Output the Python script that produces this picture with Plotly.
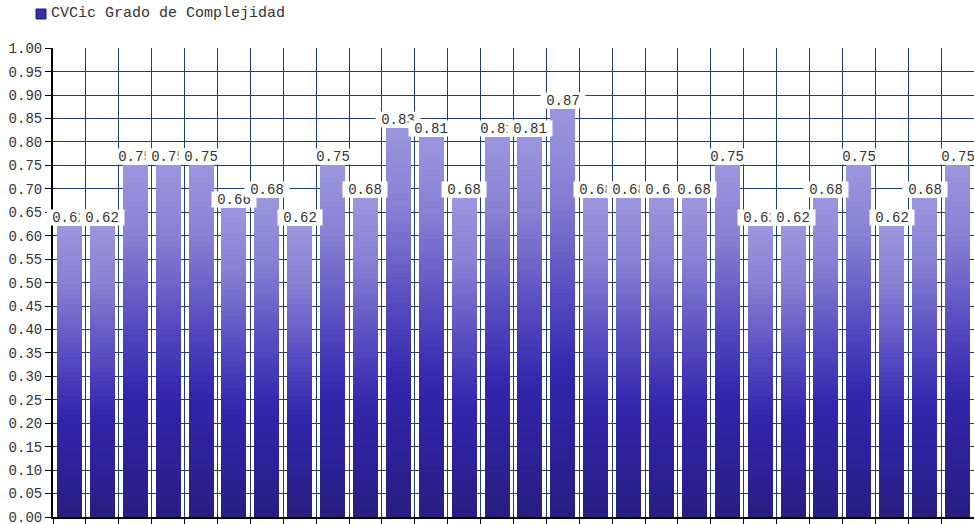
import numpy as np
import plotly.graph_objects as go

# ---------------- data ----------------
categories = [str(i) for i in range(1, 29)]
values = [0.62, 0.62, 0.75, 0.75, 0.75, 0.66, 0.68, 0.62, 0.75, 0.68,
          0.83, 0.81, 0.68, 0.81, 0.81, 0.87, 0.68, 0.68, 0.68, 0.68,
          0.75, 0.62, 0.62, 0.68, 0.75, 0.62, 0.68, 0.75]
value_labels = [f"{v:.2f}" for v in values]
series_name = "CVCic Grado de Complejidad"

# ---------------- style ----------------
FONT = "Liberation Mono"
GRID = "#1f3f70"
# gradient stops: fraction measured from bar top (0) to bar bottom (1)
grad_pos = [0.0, 0.2, 0.45, 0.65, 0.85, 1.0]
grad_rgb = np.array([
    [156, 150, 222],
    [136, 128, 212],
    [86, 76, 192],
    [50, 38, 172],
    [44, 33, 150],
    [40, 30, 128],
])
K = 60  # number of stacked slices used to render the vertical gradient


def grad_color(t):
    rgb = [np.interp(t, grad_pos, grad_rgb[:, i]) for i in range(3)]
    return "rgb(%d,%d,%d)" % tuple(int(round(c)) for c in rgb)


fig = go.Figure()
for k in range(K):
    t = 1 - (k + 0.5) / K
    fig.add_trace(go.Bar(
        x=categories,
        y=[v / K for v in values],
        marker=dict(color=grad_color(t), line=dict(width=0)),
        showlegend=False,
        hoverinfo="skip",
    ))

# value labels with white boxes (later ones overlap earlier ones)
annotations = []
for i, (v, txt) in enumerate(zip(values, value_labels)):
    annotations.append(dict(
        x=i, y=v, xref="x", yref="y", text=txt, showarrow=False,
        yanchor="bottom", xanchor="center", yshift=0,
        width=44, height=15, align="center", valign="middle",
        bgcolor="white", borderpad=0,
        font=dict(family=FONT, size=14, color="#333333"),
    ))

plot_w = 974 - 53
plot_h = 517 - 48
# legend text
annotations.append(dict(
    x=(49 - 53) / plot_w, y=(517 - 14) / plot_h, xref="paper", yref="paper",
    text=series_name, showarrow=False, xanchor="left", yanchor="middle",
    font=dict(family=FONT, size=15, color="#333333"),
))

fig.add_shape(
    type="rect", xref="paper", yref="paper",
    x0=(36 - 53) / plot_w, x1=(46 - 53) / plot_w,
    y0=(517 - 19) / plot_h, y1=(517 - 9) / plot_h,
    fillcolor="#3030a8", line=dict(color="#1e1e70", width=1),
)

fig.update_layout(
    width=974, height=524,
    margin=dict(l=53, r=0, t=48, b=7, pad=0),
    barmode="stack", bargap=0.24,
    plot_bgcolor="white", paper_bgcolor="white",
    font=dict(family=FONT, size=14, color="#333333"),
    showlegend=False,
    annotations=annotations,
    xaxis=dict(
        type="category", categoryorder="array", categoryarray=categories,
        range=[-0.5, len(categories) - 0.5],
        tickson="boundaries", ticks="outside", ticklen=5, tickcolor="black",
        showgrid=True, gridcolor=GRID, gridwidth=1,
        showline=True, linecolor="black", linewidth=2,
        tickfont=dict(family=FONT, size=14, color="#333333"),
        ticklabeloverflow="allow",
        automargin=False, fixedrange=True,
    ),
    yaxis=dict(
        range=[0, 1.0005], tick0=0, dtick=0.05, tickformat=".2f",
        ticks="outside", ticklen=6, tickcolor="black",
        showgrid=True, gridcolor=GRID, gridwidth=1, zeroline=False,
        showline=True, linecolor="black", linewidth=2,
        tickfont=dict(family=FONT, size=14, color="#333333"),
        ticklabeloverflow="allow",
        automargin=False, fixedrange=True,
    ),
)

fig.write_html("out.html")
